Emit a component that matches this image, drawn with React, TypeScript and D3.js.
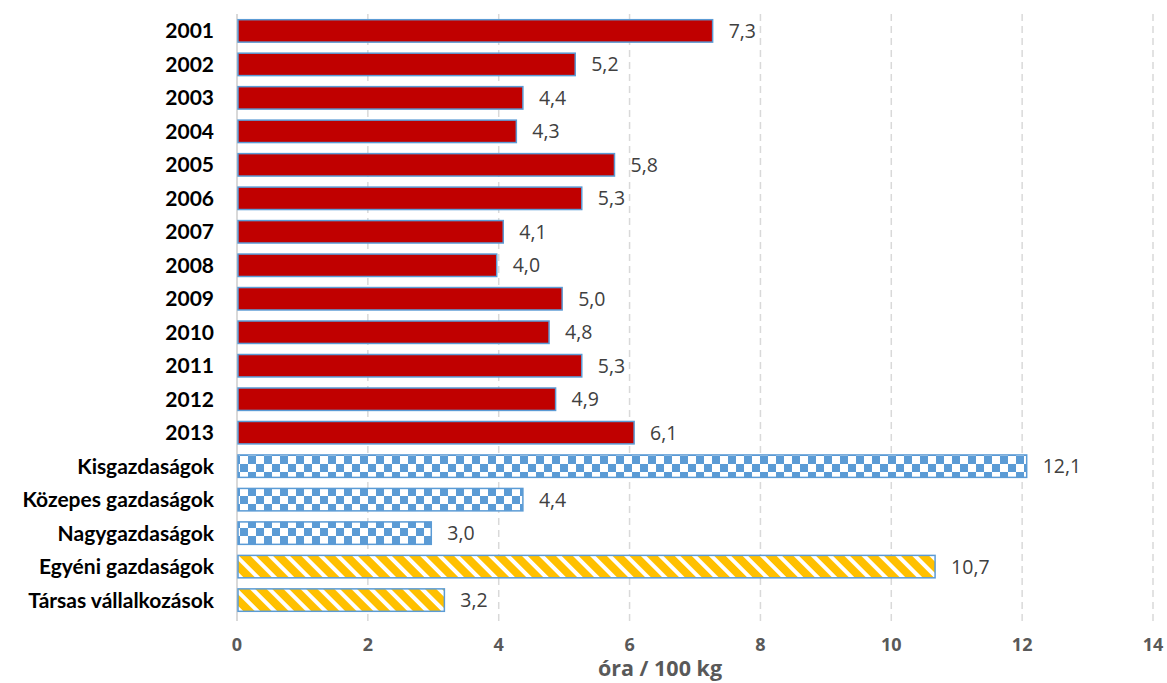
import { useEffect, useRef } from 'react'
import * as d3 from 'd3'

const categories = [
  '2001', '2002', '2003', '2004', '2005', '2006', '2007', '2008', '2009',
  '2010', '2011', '2012', '2013',
  'Kisgazdaságok', 'Közepes gazdaságok', 'Nagygazdaságok',
  'Egyéni gazdaságok', 'Társas vállalkozások',
]
const values = [7.3, 5.2, 4.4, 4.3, 5.8, 5.3, 4.1, 4.0, 5.0, 4.8, 5.3, 4.9, 6.1, 12.1, 4.4, 3.0, 10.7, 3.2]
// fill kind per category: solid red years, checkered farm sizes, striped legal forms
const kinds = [
  'solid', 'solid', 'solid', 'solid', 'solid', 'solid', 'solid', 'solid', 'solid',
  'solid', 'solid', 'solid', 'solid',
  'checker', 'checker', 'checker', 'stripe', 'stripe',
]
const xTicks = [0, 2, 4, 6, 8, 10, 12, 14]
const xTitle = 'óra / 100 kg'

export default function App() {
  const svgRef = useRef<SVGSVGElement>(null)
  const width = 1167
  const height = 683

  useEffect(() => {
    if (!svgRef.current) return
    const svg = d3.select(svgRef.current)
    svg.selectAll('*').remove()

    const margin = { top: 14, left: 237, right: 14, bottom: 66 }
    const x = d3.scaleLinear().domain([0, 14]).range([margin.left, width - margin.right])
    const y = d3.scaleBand()
      .domain(categories)
      .range([margin.top, height - margin.bottom])
      .paddingInner(0.33)
      .paddingOuter(0.17)

    const defs = svg.append('defs')
    const checker = defs.append('pattern')
      .attr('id', 'checker')
      .attr('patternUnits', 'userSpaceOnUse')
      .attr('width', 16).attr('height', 16)
    checker.append('rect').attr('width', 16).attr('height', 16).attr('fill', '#fff')
    checker.append('rect').attr('width', 8).attr('height', 8).attr('fill', '#5B9BD5')
    checker.append('rect').attr('x', 8).attr('y', 8).attr('width', 8).attr('height', 8).attr('fill', '#5B9BD5')

    const stripe = defs.append('pattern')
      .attr('id', 'stripe')
      .attr('patternUnits', 'userSpaceOnUse')
      .attr('width', 12).attr('height', 12)
      .attr('patternTransform', 'rotate(-45)')
    stripe.append('rect').attr('width', 12).attr('height', 12).attr('fill', '#FFC000')
    stripe.append('rect').attr('width', 4).attr('height', 12).attr('fill', '#fff')

    // gridlines
    svg.append('g')
      .selectAll('line')
      .data(xTicks.filter(d => d > 0))
      .enter().append('line')
      .attr('x1', d => x(d)).attr('x2', d => x(d))
      .attr('y1', margin.top).attr('y2', height - margin.bottom + 4)
      .attr('stroke', '#d9d9d9')
      .attr('stroke-width', 1.5)
      .attr('stroke-dasharray', '7,5')

    // y axis line
    svg.append('line')
      .attr('x1', x(0)).attr('x2', x(0))
      .attr('y1', margin.top).attr('y2', height - margin.bottom + 4)
      .attr('stroke', '#d9d9d9')
      .attr('stroke-width', 2)

    const fillFor = (k: string) => k === 'checker' ? 'url(#checker)' : k === 'stripe' ? 'url(#stripe)' : '#C00000'

    const rows = categories.map((c, i) => ({ c, v: values[i], k: kinds[i] }))

    svg.append('g')
      .selectAll('rect')
      .data(rows)
      .enter().append('rect')
      .attr('x', x(0) + 1)
      .attr('y', d => y(d.c) || 0)
      .attr('width', d => x(d.v) - x(0) - 3)
      .attr('height', y.bandwidth())
      .attr('fill', d => fillFor(d.k))
      .attr('stroke', '#5B9BD5')
      .attr('stroke-width', 1.5)

    // value labels
    svg.append('g')
      .selectAll('text')
      .data(rows)
      .enter().append('text')
      .attr('x', d => x(d.v) + 14)
      .attr('y', d => (y(d.c) || 0) + y.bandwidth() / 2)
      .attr('dy', '0.36em')
      .style('font-family', '"Open Sans", sans-serif')
      .style('font-size', '19.5px')
      .style('fill', '#404040')
      .text(d => d.v.toFixed(1).replace('.', ','))

    // category labels
    svg.append('g')
      .selectAll('text')
      .data(rows)
      .enter().append('text')
      .attr('x', 214)
      .attr('y', d => (y(d.c) || 0) + y.bandwidth() / 2)
      .attr('dy', '0.36em')
      .attr('text-anchor', 'end')
      .style('font-family', 'Lato, sans-serif')
      .style('font-weight', 'bold')
      .style('font-size', '21px')
      .style('fill', '#000')
      .text(d => d.c)

    // x tick labels
    svg.append('g')
      .selectAll('text')
      .data(xTicks)
      .enter().append('text')
      .attr('x', d => x(d))
      .attr('y', 651)
      .attr('text-anchor', 'middle')
      .style('font-family', '"Open Sans", sans-serif')
      .style('font-weight', 'bold')
      .style('font-size', '18px')
      .style('fill', '#595959')
      .text(d => d)

    svg.append('text')
      .attr('x', 660)
      .attr('y', 676)
      .attr('text-anchor', 'middle')
      .style('font-family', '"Open Sans", sans-serif')
      .style('font-weight', 'bold')
      .style('font-size', '21.5px')
      .style('fill', '#595959')
      .text(xTitle)
  }, [])

  return (
    <svg
      ref={svgRef}
      width={width}
      height={height}
      style={{ position: 'absolute', left: 0, top: 0, background: '#fff' }}
    />
  )
}
